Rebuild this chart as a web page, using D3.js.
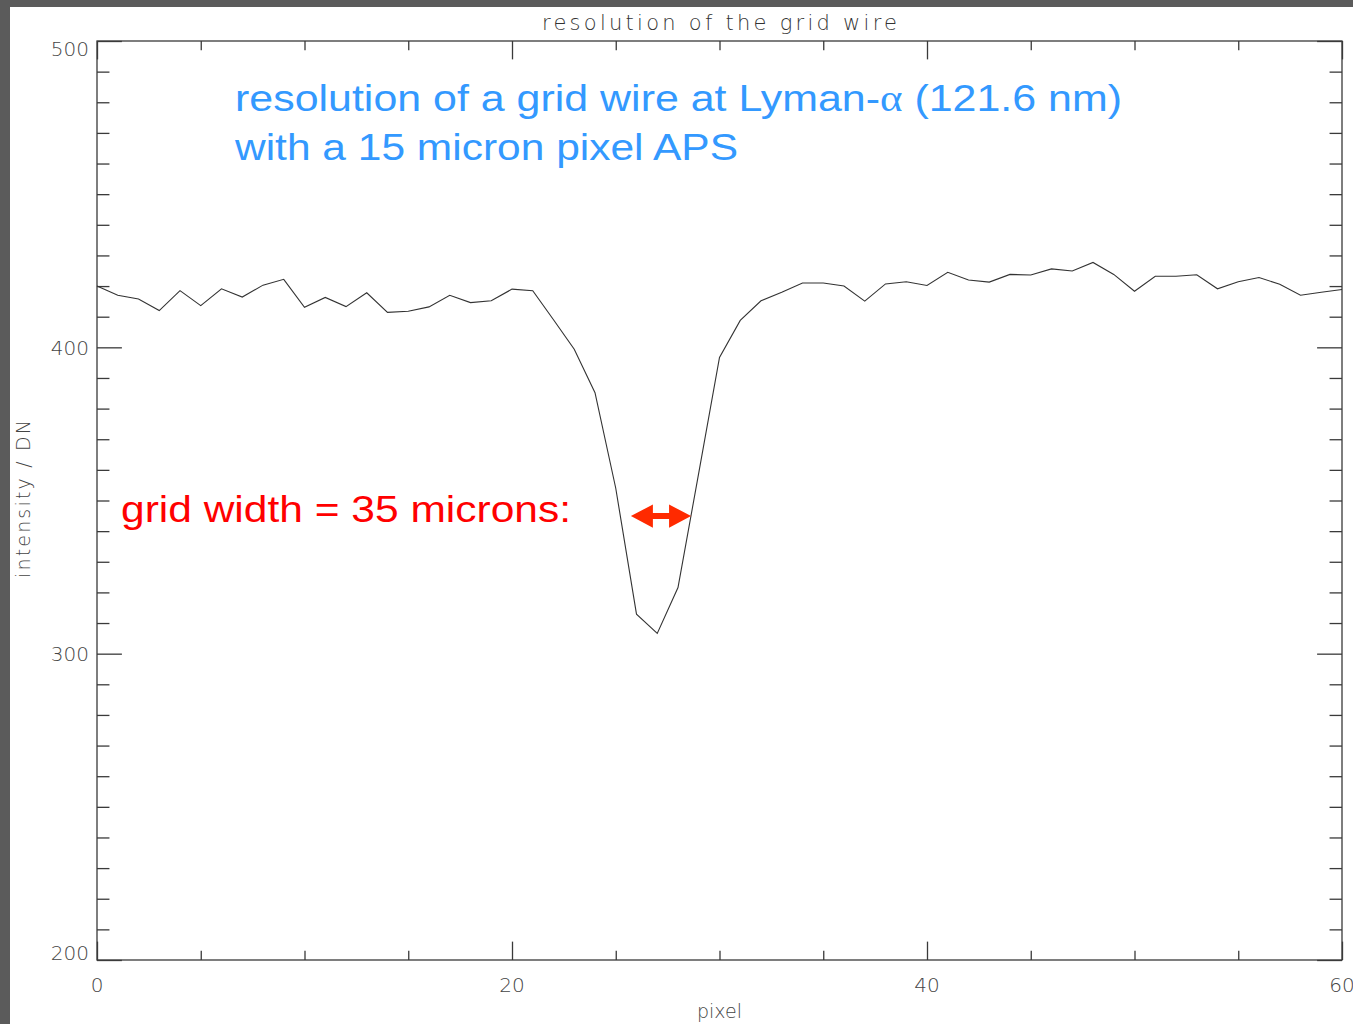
<!DOCTYPE html>
<html><head><meta charset="utf-8">
<script src="https://cdn.jsdelivr.net/npm/d3@7"></script>
<style>body{margin:0;background:#fff;overflow:hidden} svg{display:block}</style>
</head><body>
<svg id="c" width="1353" height="1024"></svg>
<script>
// ---- data ----
const intensity = [420.0,417.0,415.8,412.0,418.5,413.6,419.1,416.4,420.3,422.2,
  413.1,416.3,413.3,417.8,411.4,411.8,413.2,417.0,414.6,415.2,
  419.0,418.5,409.0,399.4,385.2,354.0,312.9,306.6,321.6,359.0,
  396.7,408.8,415.2,418.0,421.0,421.0,420.0,415.1,420.7,421.4,
  420.2,424.5,422.0,421.3,423.8,423.6,425.6,424.9,427.7,423.8,
  418.3,423.2,423.2,423.7,419.1,421.4,422.8,420.6,417.0,418.0,418.9];
const xMajorTicks = [0, 20, 40, 60];
const xMinorTicks = [5, 10, 15, 25, 30, 35, 45, 50, 55];
const yMajorTicks = [200, 300, 400, 500];
const yMinorTicks = [210,220,230,240,250,260,270,280,290,310,320,330,340,350,360,370,380,390,
  410,420,430,440,450,460,470,480,490];
const titleText = "resolution of the grid wire";
const xTitle = "pixel";
const yTitle = "intensity / DN";
const noteLine1a = "resolution of a grid wire at Lyman-";
const noteAlpha = "α";
const noteLine1b = " (121.6 nm)";
const noteLine2 = "with a 15 micron pixel APS";
const widthNote = "grid width = 35 microns:";
const arrowSpan = [25.73, 28.63];   // pixel range of the width arrow
const arrowLevel = 344.9;           // intensity level of the arrow

// ---- layout ----
const svg = d3.select("#c");
const L = 97, T = 41, R = 1342, B = 960;
const W = R - L, H = B - T;
const x = d3.scaleLinear().domain([0, 60]).range([L, R]);
const y = d3.scaleLinear().domain([200, 500]).range([B, T]);
const axisColor = "#3a3a3a";
const labelFont = "'DejaVu Sans', sans-serif";

// gray frame (slide border)
svg.append("rect").attr("x",0).attr("y",0).attr("width",1353).attr("height",7).attr("fill","#5b5b5b");
svg.append("rect").attr("x",0).attr("y",0).attr("width",10).attr("height",1024).attr("fill","#5b5b5b");

// axes box
svg.append("rect").attr("x",L).attr("y",T).attr("width",W).attr("height",H)
  .attr("fill","none").attr("stroke",axisColor).attr("stroke-width",1.3);

function styleAxis(g){
  g.select(".domain").remove();
  g.selectAll(".tick line").attr("stroke",axisColor).attr("stroke-width",1.3);
  g.selectAll(".tick text").remove();
}
const xMajLen = 0.02*H, xMinLen = 0.01*H, yMajLen = 0.02*W, yMinLen = 0.01*W;
svg.append("g").attr("transform",`translate(0,${B})`)
  .call(d3.axisBottom(x).tickValues(xMajorTicks).tickSize(-xMajLen)).call(styleAxis);
svg.append("g").attr("transform",`translate(0,${B})`)
  .call(d3.axisBottom(x).tickValues(xMinorTicks).tickSize(-xMinLen)).call(styleAxis);
svg.append("g").attr("transform",`translate(0,${T})`)
  .call(d3.axisTop(x).tickValues(xMajorTicks).tickSize(-xMajLen)).call(styleAxis);
svg.append("g").attr("transform",`translate(0,${T})`)
  .call(d3.axisTop(x).tickValues(xMinorTicks).tickSize(-xMinLen)).call(styleAxis);
svg.append("g").attr("transform",`translate(${L},0)`)
  .call(d3.axisLeft(y).tickValues(yMajorTicks).tickSize(-yMajLen)).call(styleAxis);
svg.append("g").attr("transform",`translate(${L},0)`)
  .call(d3.axisLeft(y).tickValues(yMinorTicks).tickSize(-yMinLen)).call(styleAxis);
svg.append("g").attr("transform",`translate(${R},0)`)
  .call(d3.axisRight(y).tickValues(yMajorTicks).tickSize(-yMajLen)).call(styleAxis);
svg.append("g").attr("transform",`translate(${R},0)`)
  .call(d3.axisRight(y).tickValues(yMinorTicks).tickSize(-yMinLen)).call(styleAxis);

// tick labels
svg.append("g").selectAll("text").data(xMajorTicks).join("text")
  .attr("x", d => x(d)).attr("y", B + 32)
  .attr("text-anchor","middle").attr("font-family",labelFont).attr("font-size",20)
  .attr("font-weight",200).attr("fill","#444").text(d => d);
const yDom = y.domain();
svg.append("g").selectAll("text").data(yMajorTicks).join("text")
  .attr("x", L - 8)
  .attr("y", d => d === yDom[1] ? y(d) + 14.5 : (d === yDom[0] ? y(d) : y(d) + 7.5))
  .attr("text-anchor","end").attr("font-family",labelFont).attr("font-size",20)
  .attr("font-weight",200).attr("fill","#444").text(d => d);

// title and axis titles
svg.append("text").attr("x",542).attr("y",30)
  .attr("textLength",355).attr("lengthAdjust","spacing")
  .attr("font-family",labelFont).attr("font-size",21).attr("font-weight",200)
  .attr("fill","#333").text(titleText);
svg.append("text").attr("x",(L+R)/2).attr("y",1018).attr("text-anchor","middle")
  .attr("font-family",labelFont).attr("font-size",19).attr("font-weight",200)
  .attr("fill","#444").text(xTitle);
svg.append("text").attr("transform",`translate(30,578) rotate(-90)`)
  .attr("textLength",158).attr("lengthAdjust","spacing")
  .attr("font-family",labelFont).attr("font-size",19)
  .attr("font-weight",200).attr("fill","#444").text(yTitle);

// data line
const line = d3.line().x((d,i) => x(i)).y(d => y(d));
svg.append("path").datum(intensity).attr("d", line)
  .attr("fill","none").attr("stroke","#333").attr("stroke-width",1.1)
  .attr("stroke-linejoin","miter");

// blue annotation
const blue = "#3399ff";
const t1 = svg.append("text").attr("x",235).attr("y",111)
  .attr("textLength",887).attr("lengthAdjust","spacingAndGlyphs")
  .attr("font-family","'Liberation Sans', Arial, sans-serif").attr("font-size",37.5).attr("fill",blue);
t1.append("tspan").text(noteLine1a);
t1.append("tspan").attr("font-family","'Liberation Serif', 'Times New Roman', serif").text(noteAlpha);
t1.append("tspan").text(noteLine1b);
svg.append("text").attr("x",235).attr("y",160)
  .attr("textLength",503).attr("lengthAdjust","spacingAndGlyphs")
  .attr("font-family","'Liberation Sans', Arial, sans-serif").attr("font-size",37.5).attr("fill",blue)
  .text(noteLine2);

// red annotation
svg.append("text").attr("x",121).attr("y",522)
  .attr("textLength",450).attr("lengthAdjust","spacingAndGlyphs")
  .attr("font-family","'Liberation Sans', Arial, sans-serif").attr("font-size",37).attr("fill","#ff0000")
  .text(widthNote);

// double arrow
const ax0 = x(arrowSpan[0]), ax1 = x(arrowSpan[1]), ay = y(arrowLevel);
const headL = 22, headH = 11.7, shaft = 3;
const pts = [
  [ax0, ay], [ax0+headL, ay-headH], [ax0+headL, ay-shaft], [ax1-headL, ay-shaft],
  [ax1-headL, ay-headH], [ax1, ay], [ax1-headL, ay+headH], [ax1-headL, ay+shaft],
  [ax0+headL, ay+shaft], [ax0+headL, ay+headH]
];
svg.append("path").attr("d", d3.line()(pts) + "Z").attr("fill","#ff2a00");
</script>
</body></html>
